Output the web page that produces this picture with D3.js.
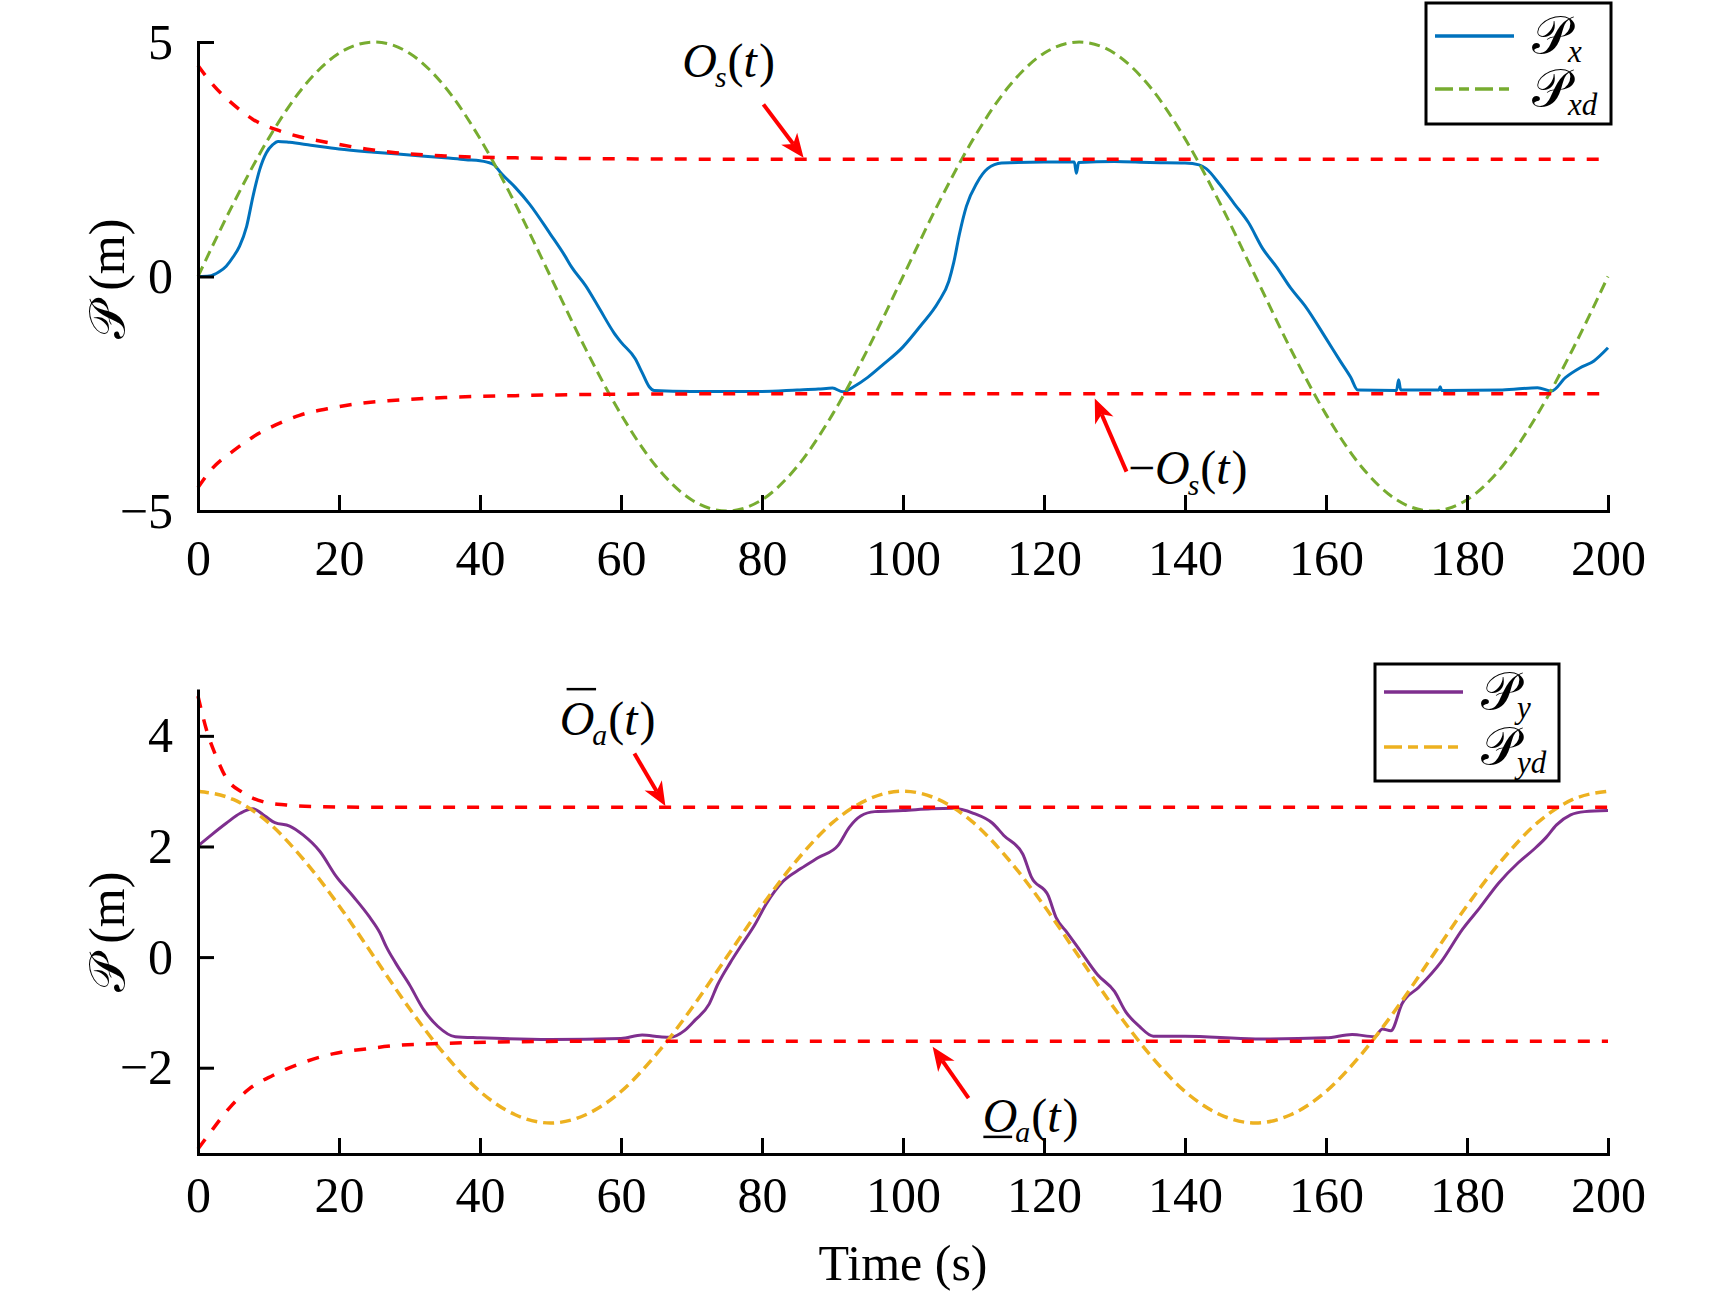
<!DOCTYPE html>
<html>
<head>
<meta charset="utf-8">
<script src="https://cdn.jsdelivr.net/npm/d3@7"></script>
<style>
  body { margin: 0; background: #fff; }
  svg { display: block; }
  text { font-family: "Liberation Serif", "Times New Roman", serif; fill: #000; }
</style>
</head>
<body>
<script>
// ---- DATA ----
var xTicks = [0, 20, 40, 60, 80, 100, 120, 140, 160, 180, 200];
var yTicksTop = [-5, 0, 5];
var yTicksBot = [-2, 0, 2, 4];

// reference trajectories, sampled every 5 s
var refT = [0, 5, 10, 15, 20, 25, 30, 35, 40, 45, 50, 55, 60, 65, 70, 75, 80, 85, 90, 95,
            100, 105, 110, 115, 120, 125, 130, 135, 140, 145, 150, 155, 160, 165, 170, 175, 180, 185, 190, 195, 200];
var pxdVals = [0, 1.55, 2.94, 4.05, 4.76, 5, 4.76, 4.05, 2.94, 1.55, 0, -1.55, -2.94, -4.05, -4.76, -5, -4.76, -4.05, -2.94, -1.55,
               0, 1.55, 2.94, 4.05, 4.76, 5, 4.76, 4.05, 2.94, 1.55, 0, -1.55, -2.94, -4.05, -4.76, -5, -4.76, -4.05, -2.94, -1.55, 0];
var pydVals = [3, 2.85, 2.43, 1.76, 0.93, 0, -0.93, -1.76, -2.43, -2.85, -3, -2.85, -2.43, -1.76, -0.93, 0, 0.93, 1.76, 2.43, 2.85,
               3, 2.85, 2.43, 1.76, 0.93, 0, -0.93, -1.76, -2.43, -2.85, -3, -2.85, -2.43, -1.76, -0.93, 0, 0.93, 1.76, 2.43, 2.85, 3];

// measured P_x
var pxT = [0, 1.6, 3, 4, 5, 5.9, 6.9, 7.8, 8.75, 9.7, 10.6, 11.35, 13, 16, 20, 25, 30, 35, 38, 40, 41, 42, 43, 45, 47, 50,
           52, 53, 55, 57, 59, 60, 62, 63, 64, 64.7, 70, 80, 85, 88, 90, 91.5, 93, 95, 97, 100, 102.5, 105, 106.5, 107.2,
           108, 109, 110.5, 112, 114, 120, 124.3, 124.6, 124.9, 130, 135, 140, 142, 143, 145, 147, 149, 151, 153, 155,
           157, 160, 162, 163.5, 164.5, 170, 170.3, 170.6, 176, 176.2, 176.4, 185, 190, 192, 194, 196, 198, 200];
var pxVals = [0, 0.01, 0.1, 0.22, 0.42, 0.65, 1.07, 1.71, 2.28, 2.64, 2.81, 2.88, 2.86, 2.8, 2.72, 2.65, 2.59, 2.53, 2.49, 2.47, 2.44, 2.38, 2.2, 1.9, 1.55, 0.9,
              0.45, 0.2, -0.2, -0.7, -1.2, -1.4, -1.75, -2.05, -2.35, -2.43, -2.45, -2.45, -2.42, -2.4, -2.38, -2.46, -2.35, -2.15, -1.9, -1.5, -1.05, -0.55, -0.1, 0.3,
              0.9, 1.5, 2.0, 2.3, 2.42, 2.44, 2.44, 2.2, 2.43, 2.45, 2.43, 2.42, 2.38, 2.3, 1.95, 1.55, 1.15, 0.6, 0.2, -0.25,
              -0.62, -1.32, -1.8, -2.15, -2.42, -2.43, -2.2, -2.42, -2.42, -2.35, -2.43, -2.42, -2.37, -2.44, -2.15, -1.95, -1.8, -1.52];

// prescribed bounds, top panel
var osT = [0, 2.1, 5, 7.8, 11.1, 14.4, 19.1, 23.8, 28, 35, 45, 60, 80, 200];
var osUp = [4.5, 4.09, 3.67, 3.35, 3.13, 2.98, 2.84, 2.72, 2.64, 2.57, 2.53, 2.51, 2.5, 2.5];
var osLo = [-4.5, -4.08, -3.72, -3.42, -3.16, -2.96, -2.8, -2.69, -2.64, -2.58, -2.54, -2.51, -2.5, -2.5];

// measured P_y
var pyT = [0, 2, 4, 6, 7.8, 9.5, 10.9, 13, 14.9, 17.3, 19.6, 22, 24.3, 25.8, 26.7, 28, 30, 32, 34, 36.5, 40, 50, 60, 63, 65.5, 67,
           69, 70.5, 72.5, 73.7, 75.5, 77, 79, 80.6, 83, 85.5, 88, 90.8, 92.4, 94, 96, 100, 104, 107, 110, 112.7, 114.3, 117,
           118.2, 120.6, 121.7, 123.3, 125, 127.6, 130, 131.6, 133.5, 135.5, 140, 150, 160, 163.7, 166.9, 168, 169.2, 170.8,
           173.2, 176.3, 179.4, 181.8, 184.5, 187.3, 189.5, 191.2, 192.7, 194.7, 196.7, 200];
var pyVals = [2.01, 2.22, 2.42, 2.6, 2.68, 2.55, 2.43, 2.37, 2.21, 1.91, 1.46, 1.1, 0.73, 0.44, 0.19, -0.1, -0.5, -0.95, -1.25, -1.44, -1.46, -1.49, -1.47, -1.41, -1.44, -1.45,
              -1.33, -1.14, -0.85, -0.5, -0.1, 0.2, 0.59, 0.96, 1.37, 1.6, 1.8, 2.02, 2.35, 2.55, 2.63, 2.65, 2.68, 2.69, 2.6, 2.42, 2.2, 1.86,
              1.45, 1.11, 0.72, 0.44, 0.14, -0.32, -0.62, -0.99, -1.25, -1.43, -1.43, -1.48, -1.46, -1.4, -1.44, -1.3, -1.33, -0.84,
              -0.54, -0.09, 0.51, 0.89, 1.34, 1.71, 1.95, 2.16, 2.39, 2.57, 2.63, 2.65];

// prescribed bounds, bottom panel
var oaUpT = [0, 1.2, 2.6, 4, 6.4, 9.2, 12.5, 17, 25, 200];
var oaUp = [4.72, 4.11, 3.62, 3.24, 2.97, 2.81, 2.75, 2.72, 2.71, 2.71];
var oaLoT = [0, 2.1, 4.5, 7.3, 10.6, 14.4, 19.1, 23.8, 28, 35, 45, 60, 200];
var oaLo = [-3.47, -3.11, -2.72, -2.38, -2.14, -1.93, -1.75, -1.66, -1.6, -1.56, -1.53, -1.52, -1.52];

// ---- CHART ----
var W = 1732, H = 1294;
var SERIF = "'Liberation Serif', 'Times New Roman', serif";
var SCRIPT_P = "\uD835\uDCAB";   // mathematical script capital P
var blue = "#0072BD", green = "#77AC30", red = "#FF0000", purple = "#7E2F8E", yellow = "#EDB120";

var svg = d3.select("body").append("svg").attr("width", W).attr("height", H)
    .style("font-family", SERIF);

var x = d3.scaleLinear().domain([0, 200]).range([198, 1608]);
var yTop = d3.scaleLinear().domain([-5, 5]).range([511, 42]);
var yBot = d3.scaleLinear().domain([-3.56, 4.82]).range([1154, 690.5]);

function fmt(d) { return d < 0 ? "\u2212" + Math.abs(d) : "" + d; }

function drawAxes(y, yTicks, padX) {
    var gx = svg.append("g")
        .attr("transform", "translate(0," + y.range()[0] + ")")
        .call(d3.axisBottom(x).tickValues(xTicks).tickSizeInner(-16).tickSizeOuter(0).tickPadding(padX));
    var gy = svg.append("g")
        .attr("transform", "translate(" + x.range()[0] + ",0)")
        .call(d3.axisLeft(y).tickValues(yTicks).tickSizeInner(-16).tickSizeOuter(0).tickPadding(25).tickFormat(fmt));
    [gx, gy].forEach(function (g) {
        g.attr("font-family", null).attr("font-size", null);
        g.select(".domain").attr("stroke-width", 3).attr("stroke-linecap", "square");
        g.selectAll(".tick line").attr("stroke-width", 3);
        g.selectAll(".tick text")
            .attr("font-size", 50)
            .attr("fill", "#000")
            .style("font-family", SERIF);
    });
}

function drawSeries(y, ts, vs, color, width, dash) {
    var pts = ts.map(function (t, i) { return [t, vs[i]]; });
    var line = d3.line()
        .x(function (d) { return x(d[0]); })
        .y(function (d) { return y(d[1]); })
        .curve(d3.curveMonotoneX);
    svg.append("path").datum(pts)
        .attr("fill", "none")
        .attr("stroke", color)
        .attr("stroke-width", width)
        .attr("stroke-dasharray", dash)
        .attr("d", line);
}

function arrow(y, t0, v0, t1, v1) {
    var x0 = x(t0), y0 = y(v0), x1 = x(t1), y1 = y(v1);
    var a = Math.atan2(y1 - y0, x1 - x0), L = 24, Wd = 10;
    var c = Math.cos(a), s = Math.sin(a);
    var bx = x1 - L * c, by = y1 - L * s;
    var nx = x1 - 0.72 * L * c, ny = y1 - 0.72 * L * s;
    svg.append("line")
        .attr("x1", x0).attr("y1", y0).attr("x2", nx).attr("y2", ny)
        .attr("stroke", red).attr("stroke-width", 4);
    svg.append("polygon")
        .attr("points", [[x1, y1], [bx + Wd * s, by - Wd * c], [nx, ny], [bx - Wd * s, by + Wd * c]].join(" "))
        .attr("fill", red);
}

// text made of pieces: {s, it, sub, over, under}
function mathText(px, py, parts, fs) {
    var cx = px;
    parts.forEach(function (p) {
        var size = p.sub ? fs * 0.62 : fs;
        var t = svg.append("text")
            .attr("x", cx)
            .attr("y", py + (p.sub ? fs * 0.22 : 0))
            .attr("font-size", size)
            .attr("font-style", p.it ? "italic" : "normal")
            .text(p.s);
        var w = t.node().getComputedTextLength();
        if (p.over) {
            svg.append("line").attr("x1", cx + w * 0.2).attr("x2", cx + w * 1.05)
                .attr("y1", py - fs * 0.95).attr("y2", py - fs * 0.95)
                .attr("stroke", "#000").attr("stroke-width", 2.5);
        }
        if (p.under) {
            svg.append("line").attr("x1", cx + 0.02 * w).attr("x2", cx + w * 0.85)
                .attr("y1", py + 5).attr("y2", py + 5)
                .attr("stroke", "#000").attr("stroke-width", 2.5);
        }
        cx += w + (p.kern || 0);
    });
}

function legend(lx, ly, lw, lh, items) {
    var g = svg.append("g").attr("transform", "translate(" + lx + "," + ly + ")");
    g.append("rect").attr("width", lw).attr("height", lh)
        .attr("fill", "#fff").attr("stroke", "#000").attr("stroke-width", 3);
    items.forEach(function (it) {
        g.append("line").attr("x1", 9).attr("x2", 88).attr("y1", it.y).attr("y2", it.y)
            .attr("stroke", it.color).attr("stroke-width", 3.5).attr("stroke-dasharray", it.dash);
        g.append("text").attr("x", 106).attr("y", it.y + 17).attr("font-size", 52).text(SCRIPT_P);
        g.append("text").attr("x", 142).attr("y", it.y + 26).attr("font-size", 31)
            .attr("font-style", "italic").text(it.sub);
    });
}

// ---- top panel ----
drawSeries(yTop, pxT, pxVals, blue, 3, null);
drawSeries(yTop, refT, pxdVals, green, 3, "11,6");
drawSeries(yTop, osT, osUp, red, 3.5, "12,12");
drawSeries(yTop, osT, osLo, red, 3.5, "12,12");
drawAxes(yTop, yTicksTop, 28);

mathText(x(68.7), yTop(4.26), [{ s: "O", it: true, kern: -2 }, { s: "s", it: true, sub: true, kern: 1 }, { s: "(" }, { s: "t", it: true, kern: 2 }, { s: ")" }], 48);
arrow(yTop, 80.2, 3.67, 85.9, 2.53);
mathText(x(131.9), yTop(-4.43), [{ s: "\u2212" }, { s: "O", it: true, kern: -2 }, { s: "s", it: true, sub: true, kern: 1 }, { s: "(" }, { s: "t", it: true, kern: 2 }, { s: ")" }], 48);
arrow(yTop, 131.7, -4.16, 127.2, -2.6);

legend(x.range()[1] - 182, 3, 185, 121, [
    { y: 33, color: blue, dash: null, sub: "x" },
    { y: 86, color: green, dash: "18,6,10,6", sub: "xd" }
]);

// ---- bottom panel ----
drawSeries(yBot, pyT, pyVals, purple, 3, null);
drawSeries(yBot, refT, pydVals, yellow, 3.5, "11,6");
drawSeries(yBot, oaUpT, oaUp, red, 3.5, "12,12");
drawSeries(yBot, oaLoT, oaLo, red, 3.5, "12,12");
drawAxes(yBot, yTicksBot, 22);

mathText(x(51.3), yBot(4.02), [{ s: "O", it: true, over: true, kern: -2 }, { s: "a", it: true, sub: true, kern: 1 }, { s: "(" }, { s: "t", it: true, kern: 2 }, { s: ")" }], 48);
arrow(yBot, 61.9, 3.68, 66.3, 2.73);
mathText(x(111.3), yBot(-3.16), [{ s: "O", it: true, under: true, kern: -2 }, { s: "a", it: true, sub: true, kern: 1 }, { s: "(" }, { s: "t", it: true, kern: 2 }, { s: ")" }], 48);
arrow(yBot, 109.3, -2.55, 104.2, -1.62);

legend(x.range()[1] - 233, 664, 184, 117, [
    { y: 28, color: purple, dash: null, sub: "y" },
    { y: 83, color: yellow, dash: "18,6,10,6", sub: "yd" }
]);

// ---- axis titles ----
[279, 932].forEach(function (cy) {
    svg.append("text")
        .attr("transform", "translate(124," + cy + ") rotate(-90)")
        .attr("text-anchor", "middle")
        .attr("font-size", 50)
        .text(SCRIPT_P + " (m)");
});

svg.append("text")
    .attr("x", (x.range()[0] + x.range()[1]) / 2)
    .attr("y", 1280)
    .attr("text-anchor", "middle")
    .attr("font-size", 50)
    .text("Time (s)");
</script>
</body>
</html>
